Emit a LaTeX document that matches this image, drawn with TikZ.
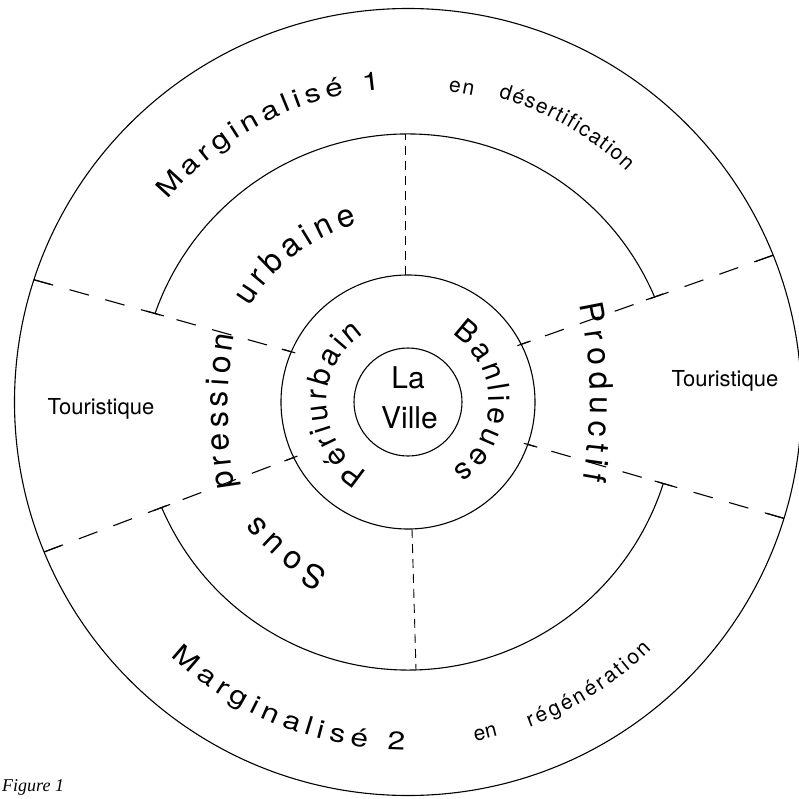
\documentclass[tikz,border=0pt]{standalone}
\usepackage{fontspec}
\setmainfont{TeX Gyre Heros}
\newfontfamily\margfont[FakeStretch=1.24]{TeX Gyre Heros}
\newfontfamily\figfont{Liberation Serif}
\usetikzlibrary{decorations.text,calc}

\tikzset{
  ring/.style={line width=1.1pt},
  bigdash/.style={line width=1.1pt, dash pattern=on 20pt off 17pt},
  smalldash/.style={line width=0.9pt, dash pattern=on 9pt off 6pt},
  tickmark/.style={line width=1.1pt},
  lbl/.style={inner sep=0pt, anchor=base},
  arctext/.style n args={2}{decorate, decoration={text along path, text align=fit to path,
      text={|#1|#2}}},
}

\begin{document}
\begin{tikzpicture}[x=1pt,y=1pt]
\fill[white] (-408,-396) rectangle (391,402);
\useasboundingbox (-408,-396) rectangle (391,402);
\coordinate (c) at (0,0);

% circles
\draw[ring] (c) circle[radius=54];
\draw[ring] (c) circle[radius=127];
\draw[ring] (c) circle[radius=393.5];
% second ring arcs
\draw[ring] (23.1:268) arc[start angle=23.1, end angle=160.7, radius=268];
\draw[ring] (203.2:268) arc[start angle=203.2, end angle=342.3, radius=268];

% dashed dividing lines
\coordinate (ulo) at (161.9:393.5);
\coordinate (uls) at (160.7:268);
\coordinate (ulm) at (156.7:127);
\coordinate (uro) at (21.9:393.5);
\coordinate (urs) at (23.1:268);
\coordinate (urm) at (27.0:127);
\coordinate (llo) at (202.4:393.5);
\coordinate (lls) at (203.2:268);
\coordinate (llm) at (205.9:127);
\coordinate (lro) at (-17.2:393.5);
\coordinate (lrs) at (-17.7:268);
\coordinate (lrm) at (-19.5:127);

\foreach \o/\s/\m in {ulo/uls/ulm, uro/urs/urm, llo/lls/llm, lro/lrs/lrm}{
  \draw[bigdash] (\o) -- (\m);
  \draw[tickmark] (\o) -- ($(\o)!18pt!(\m)$);
  \draw[tickmark] ($(\s)!9pt!(\o)$) -- ($(\s)!9pt!(\m)$);
  \draw[tickmark] ($(\m)!10pt!(\o)$) -- ($(\m)!-4pt!(\o)$);
}

% vertical fine dashed lines
\coordinate (vt1) at (-3,127);
\coordinate (vt2) at (-3,267.5);
\coordinate (vb1) at (4,-127);
\coordinate (vb2) at (8,-268);
\draw[smalldash] (vt1) -- (vt2);
\draw[smalldash] (vb1) -- (vb2);

% texts along arcs
\path[arctext={\margfont\fontsize{25.5}{26}\selectfont}{Marginalisé 1}] (140:314) arc[start angle=140, end angle=95, radius=314];
\path[arctext={\fontsize{21}{21}\selectfont}{en}] (82.6:313) arc[start angle=82.6, end angle=78, radius=313];
\path[arctext={\fontsize{21}{21}\selectfont}{désertification}] (73.5:318) arc[start angle=73.5, end angle=46.5, radius=318];

\path[arctext={\margfont\fontsize{25.5}{26}\selectfont}{Marginalisé 2}] (227:348) arc[start angle=227, end angle=269.5, radius=348];
\path[arctext={\fontsize{21}{21}\selectfont}{en}] (281.2:346) arc[start angle=281.2, end angle=285, radius=346];
\path[arctext={\fontsize{21}{21}\selectfont}{régénération}] (290.5:347) arc[start angle=290.5, end angle=314.6, radius=347];

\path[arctext={\fontsize{32}{32}\selectfont}{Sous}] (245:187) arc[start angle=245, end angle=217, radius=187];
\path[arctext={\fontsize{32}{32}\selectfont}{pression}] ($(267,-10)+(189.7:447)$) arc[start angle=189.7, end angle=170.1, radius=447];
\path[arctext={\fontsize{32}{32}\selectfont}{urbaine}] (149:185) arc[start angle=149, end angle=106, radius=185];
\path[arctext={\fontsize{32}{32}\selectfont}{Productif}] ($(-265,2)+(12.3:447)$) arc[start angle=12.3, end angle=-10.3, radius=447];

\path[arctext={\fontsize{30}{30}\selectfont}{Périurbain}] (240:81) arc[start angle=240, end angle=123, radius=81];
\path[arctext={\fontsize{30}{30}\selectfont}{Banlieues}] (57.4:81) arc[start angle=57.4, end angle=-57, radius=81];

% plain labels
\node[lbl, font=\fontsize{30}{30}\selectfont] (la) at (0,14) {La};
\node[lbl, font=\fontsize{30}{30}\selectfont] (ville) at (1.5,-26) {Ville};
\node[lbl, font=\fontsize{22}{22}\selectfont] (tourL) at (-307,-12) {Touristique};
\node[lbl, font=\fontsize{22}{22}\selectfont] (tourR) at (317,16) {Touristique};
\node[inner sep=0pt, anchor=base west, font=\figfont\itshape\fontsize{18}{18}\selectfont] (fig) at (-406,-389) {Figure 1};
\end{tikzpicture}
\end{document}
